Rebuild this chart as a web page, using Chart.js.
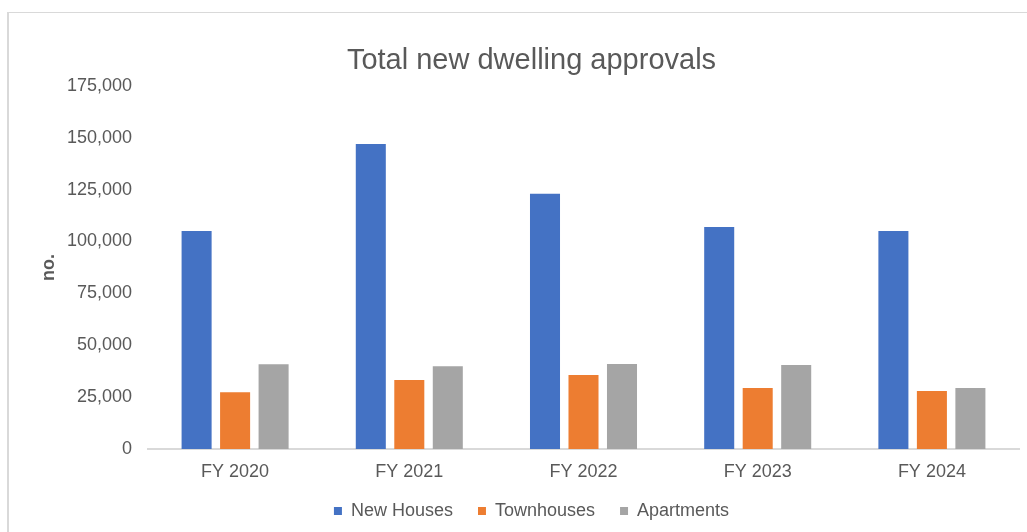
<!DOCTYPE html>
<html>
<head>
<meta charset="utf-8">
<script src="https://cdn.jsdelivr.net/npm/chart.js@4"></script>
<style>
  html, body { margin: 0; padding: 0; background: #fff; }
  #wrap { position: relative; width: 1027px; height: 532px; }
  #frame { position: absolute; left: 7px; top: 12px; right: 0; bottom: -10px;
           border-left: 2px solid #d9d9d9; border-top: 1px solid #d9d9d9; }
  canvas { position: absolute; left: 0; top: 0; }
</style>
</head>
<body>
<div id="wrap">
  <div id="frame"></div>
  <canvas id="myChart" width="1027" height="532"></canvas>
</div>
<script>
  const categories = ["FY 2020", "FY 2021", "FY 2022", "FY 2023", "FY 2024"];
  const newHouses = [105000, 147000, 123000, 107000, 105000];
  const townhouses = [27300, 33300, 35700, 29400, 28000];
  const apartments = [40800, 39900, 41000, 40500, 29400];
  const yTicks = [0, 25000, 50000, 75000, 100000, 125000, 150000, 175000];

  const textColor = "#595959";
  const font = "'Liberation Sans', Arial, sans-serif";

  const ctx = document.getElementById("myChart");
  new Chart(ctx, {
    type: "bar",
    data: {
      labels: categories,
      datasets: [
        { label: "New Houses", data: newHouses, backgroundColor: "#4472C4" },
        { label: "Townhouses", data: townhouses, backgroundColor: "#ED7D31" },
        { label: "Apartments", data: apartments, backgroundColor: "#A5A5A5" },
      ],
    },
    options: {
      responsive: false,
      animation: false,
      events: [],
      categoryPercentage: 0.663,
      barPercentage: 0.78,
      layout: { padding: { left: 44, right: 8, top: 0, bottom: 2 } },
      plugins: {
        tooltip: { enabled: false },
        title: {
          display: true,
          text: "Total new dwelling approvals",
          color: textColor,
          font: { family: font, size: 29, weight: "normal" },
          padding: { top: 44, bottom: 7 },
        },
        legend: {
          position: "bottom",
          labels: {
            color: textColor,
            font: { family: font, size: 18 },
            boxWidth: 8,
            boxHeight: 8,
            padding: 25,
          },
        },
      },
      scales: {
        x: {
          grid: { display: false, drawTicks: false },
          border: { display: true, color: "#d9d9d9", width: 2 },
          ticks: { color: textColor, font: { family: font, size: 18 }, padding: 12 },
          afterFit(scale) { scale.height = 28; },
        },
        y: {
          min: 0,
          max: 175000,
          afterBuildTicks(scale) { scale.ticks = yTicks.map(v => ({ value: v })); },
          grid: { display: false, drawTicks: false },
          border: { display: false },
          ticks: {
            color: textColor,
            font: { family: font, size: 18 },
            padding: 16,
            callback: v => v.toLocaleString("en-US"),
          },
          title: {
            display: true,
            text: "no.",
            color: textColor,
            font: { family: font, size: 18, weight: "bold" },
            padding: { top: -6, bottom: 0 },
          },
          afterFit(scale) { scale.width = 104; },
        },
      },
    },
  });
</script>
</body>
</html>
